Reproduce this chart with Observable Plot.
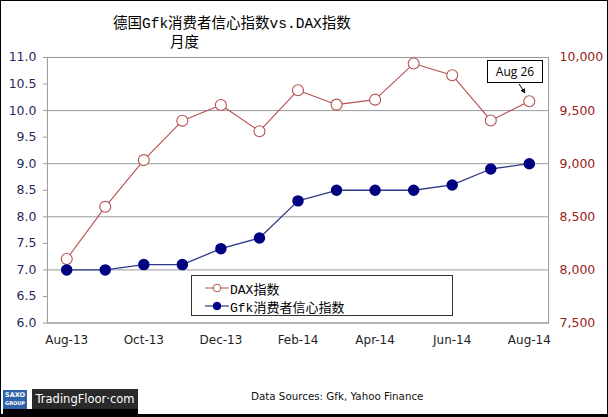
<!DOCTYPE html>
<html>
<head>
<meta charset="utf-8">
<script src="https://cdn.jsdelivr.net/npm/d3@7"></script>
<script src="https://cdn.jsdelivr.net/npm/@observablehq/plot@0.6"></script>
<style>
  html, body { margin: 0; padding: 0; background: #fff; }
  #wrap { position: relative; width: 606px; height: 413px; border: 1px solid #000; border-bottom: 3px solid #000; background: #fff; overflow: hidden; }
  .t { position: absolute; white-space: nowrap; }
  .title { font-family: "Liberation Mono", "Noto Sans CJK SC", monospace; font-size: 14.5px; color: #000; }
  #chart { position: absolute; left: -1px; top: 44px; }
  .legend { position: absolute; left: 190px; top: 274px; width: 260px; height: 39px; border: 1px solid #333; background: #fff; font-family: "Liberation Mono", "Noto Sans CJK SC", monospace; font-size: 13px; }
  .legend .row { position: absolute; left: 13px; height: 18px; display: flex; align-items: center; }
  .legend .row span { margin-left: 1px; }
  .anno { position: absolute; left: 486px; top: 59px; width: 54px; height: 21px; border: 1px solid #000; background: #fff; font-family: "Open Sans", "Liberation Sans", sans-serif; font-size: 12px; text-align: center; line-height: 21px; color: #000; }
  .src { font-family: "DejaVu Sans", sans-serif; font-size: 10.3px; color: #111; left: 250px; top: 389px; }
  .saxo { position: absolute; left: 2px; top: 389px; width: 24px; height: 19px; background: #2f62a8; color: #fff; font-family: "DejaVu Sans", sans-serif; font-weight: bold; font-size: 6.5px; line-height: 8px; text-align: center; padding-top: 1px; box-sizing: border-box; }
  .tf { position: absolute; left: 31px; top: 388px; width: 106px; height: 20px; background: #2a2a2a; color: #fff; font-family: "DejaVu Sans", sans-serif; font-size: 11.5px; line-height: 20px; text-align: center; }
  .bar { position: absolute; left: 2px; top: 408px; width: 135px; height: 5px; background: #000; }
</style>
</head>
<body>
<div id="wrap">
  <div class="t title" style="left:112px; top:10px;">德国Gfk消费者信心指数vs.DAX指数</div>
  <div class="t title" style="left:169px; top:29px;">月度</div>
  <div id="chart"></div>
  <div class="legend">
    <div class="row" style="top:3px;">
      <svg width="24" height="12"><line x1="0" y1="6" x2="24" y2="6" stroke="#b5504f" stroke-width="1"/><circle cx="12" cy="6" r="3.8" fill="#fff" stroke="#b5504f" stroke-width="1"/></svg>
      <span>DAX指数</span>
    </div>
    <div class="row" style="top:21px;">
      <svg width="24" height="12"><line x1="0" y1="6" x2="24" y2="6" stroke="#2e3a87" stroke-width="1.2"/><circle cx="12" cy="6" r="3.8" fill="#000080" stroke="#000080"/></svg>
      <span>Gfk消费者信心指数</span>
    </div>
  </div>
  <div class="anno">Aug 26</div>
  <svg class="t" style="left:512px; top:80px;" width="20" height="18">
    <defs><marker id="ah" viewBox="0 0 10 10" refX="9" refY="5" markerWidth="5" markerHeight="5" orient="auto"><path d="M0,0L10,5L0,10z" fill="#000"/></marker></defs>
    <line x1="6" y1="3" x2="12" y2="12" stroke="#000" stroke-width="1" marker-end="url(#ah)"/>
  </svg>
  <div class="t src">Data Sources: Gfk, Yahoo Finance</div>
  <div class="saxo">SAXO<br><span style="font-size:5px">GROUP</span></div>
  <div class="tf">TradingFloor·com</div>
  <div class="bar"></div>
</div>
<script>
const months = ["Aug-13","Sep-13","Oct-13","Nov-13","Dec-13","Jan-14","Feb-14","Mar-14","Apr-14","May-14","Jun-14","Jul-14","Aug-14"];
const gfk = [7.0, 7.0, 7.1, 7.1, 7.4, 7.6, 8.3, 8.5, 8.5, 8.5, 8.6, 8.9, 9.0];
const dax = [8103, 8594, 9034, 9405, 9552, 9306, 9692, 9556, 9603, 9943, 9833, 9407, 9588];
const xTickLabels = ["Aug-13","Oct-13","Dec-13","Feb-14","Apr-14","Jun-14","Aug-14"];
const leftTicks = [6, 6.5, 7, 7.5, 8, 8.5, 9, 9.5, 10, 10.5, 11];
const rightTicks = [7500, 8000, 8500, 9000, 9500, 10000];

// right axis (DAX) mapped onto the left scale: 7,500 ↔ 6.0, 10,000 ↔ 11.0
const daxToLeft = v => 6 + (v - 7500) / 500;
const data = months.map((m, i) => ({month: m, gfk: gfk[i], dax: dax[i]}));

const daxColor = "#b5504f";
const gfkLine = "#2e3a87";
const gfkDot = "#000080";

const chart = Plot.plot({
  width: 608,
  height: 316,
  marginTop: 12,
  marginLeft: 47,
  marginRight: 59,
  marginBottom: 38,
  style: {fontFamily: "DejaVu Sans, sans-serif", fontSize: "12px", background: "transparent", overflow: "visible"},
  x: {type: "point", domain: months, padding: 0.5, round: false},
  y: {domain: [6, 11]},
  marks: [
    Plot.gridY(rightTicks.map(daxToLeft), {stroke: "#9a9a9a", strokeOpacity: 1}),
    Plot.frame({stroke: "#9a9a9a", strokeOpacity: 1}),
    Plot.axisY(leftTicks, {anchor: "left", tickSize: 4, tickPadding: 7, tickFormat: d3.format(".1f"), fill: "#1f2a5c", stroke: "#9a9a9a", label: null, fontSize: 12.5}),
    Plot.axisY(rightTicks.map(daxToLeft), {anchor: "right", tickSize: 0, tickPadding: 11, tickFormat: d => d3.format(",")(Math.round(7500 + (d - 6) * 500)), fill: "#9c1c1c", label: null, fontSize: 12.5}),
    Plot.axisX(xTickLabels, {anchor: "bottom", tickSize: 0, tickPadding: 12, fill: "#222", label: null, fontSize: 12}),
    Plot.line(data, {x: "month", y: d => daxToLeft(d.dax), stroke: daxColor, strokeWidth: 1.1}),
    Plot.dot(data, {x: "month", y: d => daxToLeft(d.dax), r: 5.5, fill: "#fff", stroke: daxColor, strokeWidth: 1.1}),
    Plot.line(data, {x: "month", y: "gfk", stroke: gfkLine, strokeWidth: 1.3}),
    Plot.dot(data, {x: "month", y: "gfk", r: 5, fill: gfkDot, stroke: gfkDot})
  ]
});
document.getElementById("chart").appendChild(chart);
</script>
</body>
</html>
